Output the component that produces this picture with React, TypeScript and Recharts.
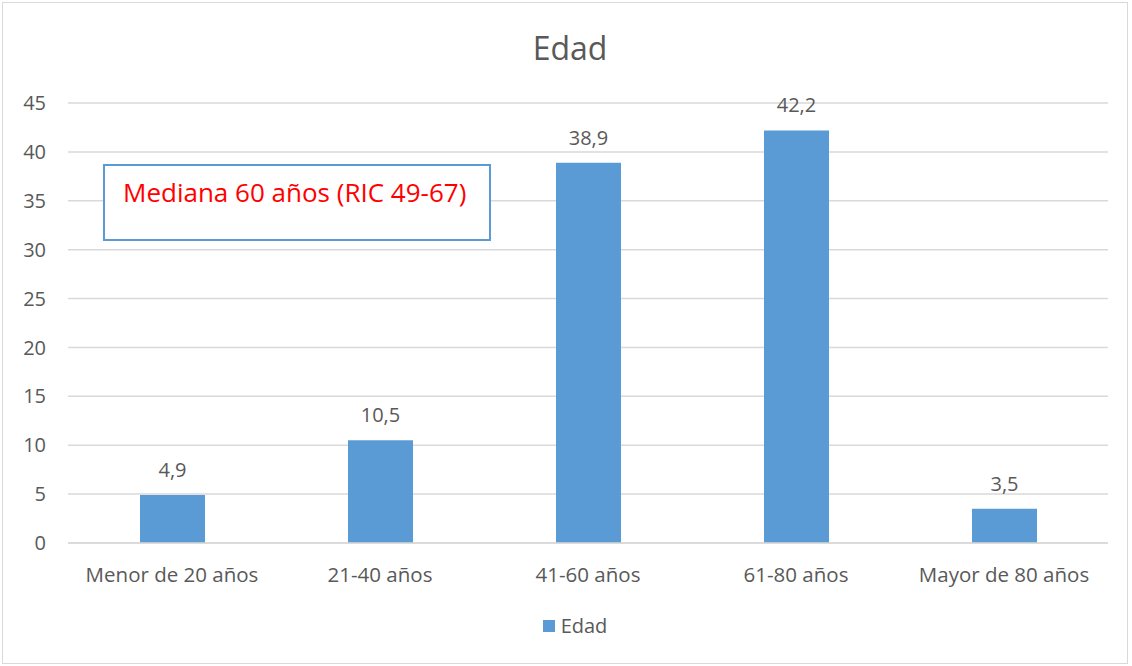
import { Bar, BarChart, CartesianGrid, LabelList, Legend, XAxis, YAxis } from "recharts"

const categories = ["Menor de 20 años", "21-40 años", "41-60 años", "61-80 años", "Mayor de 80 años"]
const edadValues = [4.9, 10.5, 38.9, 42.2, 3.5]
const yTicks = [0, 5, 10, 15, 20, 25, 30, 35, 40, 45]

const data = categories.map((name, i) => ({ name, edad: edadValues[i] }))

const FONT = "'Open Sans', sans-serif"
const TEXT = "#595959"
const BLUE = "#5B9BD5"
const GRID = "#D9D9D9"

export default function App() {
  return (
    <div style={{ position: "absolute", left: 0, top: 0, width: 1132, height: 666, background: "#fff", fontFamily: FONT }}>
      <div style={{ position: "absolute", left: 2, top: 2, width: 1124, height: 660, border: `1px solid ${GRID}` }} />
      <div style={{ position: "absolute", left: 0, width: 1132, top: 26, textAlign: "center", fontSize: 32, color: TEXT, lineHeight: "44px", paddingLeft: 8, boxSizing: "border-box" }}>
        Edad
      </div>
      <BarChart width={1132} height={666} data={data} margin={{ top: 103, right: 24, left: 0, bottom: 66 }}>
        <CartesianGrid vertical={false} stroke={GRID} strokeWidth={1.5} />
        <XAxis
          dataKey="name"
          tickLine={false}
          axisLine={{ stroke: GRID, strokeWidth: 1.5 }}
          tick={{ fill: TEXT, fontSize: 20.5, fontFamily: FONT }}
          tickMargin={18}
          interval={0}
        />
        <YAxis
          width={68}
          domain={[0, 45]}
          ticks={yTicks}
          tickLine={false}
          axisLine={false}
          tick={{ fill: TEXT, fontSize: 20, fontFamily: FONT }}
          tickMargin={16}
        />
        <Legend
          verticalAlign="bottom"
          wrapperStyle={{ top: 612 }}
          content={() => (
            <div style={{ display: "flex", justifyContent: "center", alignItems: "center", fontFamily: FONT, fontSize: 20, color: TEXT, paddingLeft: 42 }}>
              <span style={{ display: "inline-block", width: 12, height: 12, background: BLUE, marginRight: 6 }} />
              Edad
            </div>
          )}
        />
        <Bar dataKey="edad" name="Edad" fill={BLUE} barSize={65} isAnimationActive={false}>
          <LabelList
            dataKey="edad"
            position="top"
            offset={18}
            formatter={(v: number) => String(v).replace(".", ",")}
            style={{ fill: TEXT, fontSize: 20, fontFamily: FONT }}
          />
        </Bar>
      </BarChart>
      <div
        style={{
          position: "absolute",
          left: 103,
          top: 164,
          width: 366,
          height: 65,
          border: `2px solid ${BLUE}`,
          background: "#fff",
          color: "#FF0000",
          fontSize: 26,
          fontFamily: FONT,
          paddingLeft: 18,
          paddingTop: 8,
          boxSizing: "content-box",
          whiteSpace: "nowrap",
        }}
      >
        Mediana 60 años (RIC 49-67)
      </div>
    </div>
  )
}
